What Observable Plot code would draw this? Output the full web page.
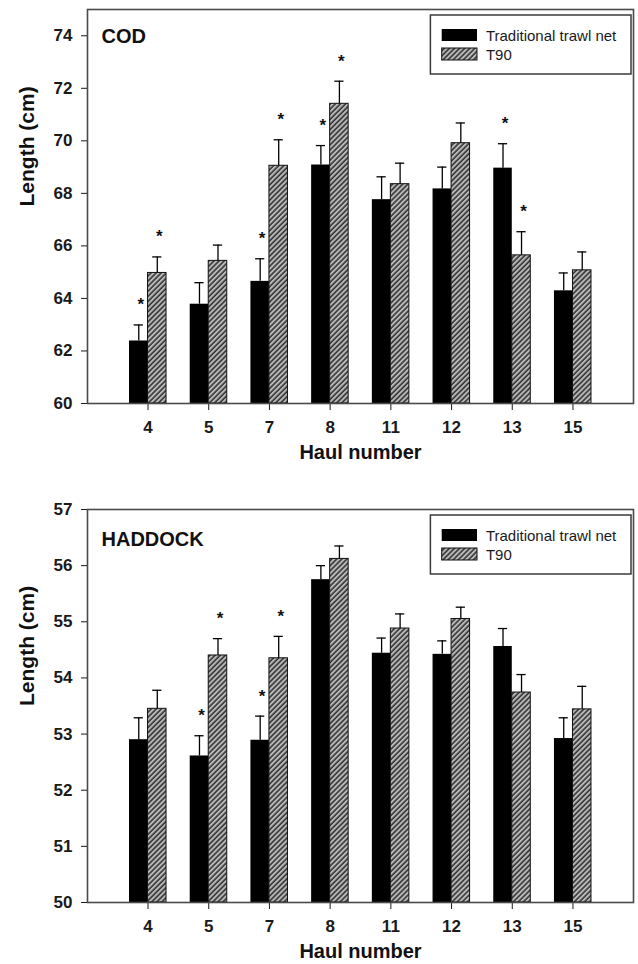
<!DOCTYPE html>
<html>
<head>
<meta charset="utf-8">
<script src="https://cdn.jsdelivr.net/npm/d3@7"></script>
<script src="https://cdn.jsdelivr.net/npm/@observablehq/plot@0.6"></script>
<style>
  html, body { margin: 0; padding: 0; background: #fff; }
  #chart svg { display: block; }
</style>
</head>
<body>
<div id="chart"></div>
<script>
// ---- Data ----
const hauls = ["4", "5", "7", "8", "11", "12", "13", "15"];
const seriesNames = ["Traditional trawl net", "T90"];

// COD (mean length, standard error, significance)
const codTrad = [62.38, 63.78, 64.65, 69.08, 67.76, 68.17, 68.96, 64.29];
const codTradSE = [0.61, 0.82, 0.86, 0.74, 0.87, 0.83, 0.93, 0.68];
const codT90 = [64.97, 65.43, 69.05, 71.41, 68.35, 69.91, 65.64, 65.07];
const codT90SE = [0.61, 0.60, 0.99, 0.86, 0.80, 0.77, 0.90, 0.70];
const codSig = [true, false, true, true, false, false, true, false];
const codYTicks = [60, 62, 64, 66, 68, 70, 72, 74];

// HADDOCK
const hadTrad = [52.90, 52.61, 52.89, 55.75, 54.44, 54.42, 54.56, 52.92];
const hadTradSE = [0.39, 0.36, 0.43, 0.25, 0.27, 0.24, 0.32, 0.37];
const hadT90 = [53.45, 54.40, 54.35, 56.12, 54.88, 55.05, 53.74, 53.44];
const hadT90SE = [0.33, 0.30, 0.39, 0.23, 0.26, 0.21, 0.32, 0.41];
const hadSig = [false, true, true, false, false, false, false, false];
const hadYTicks = [50, 51, 52, 53, 54, 55, 56, 57];

// ---- Layout ----
const W = 638, H = 482;
const mL = 87, mR = 5;
const padInner = 0.39, padOuter = 0.692;
const FONT = "'Liberation Sans', Arial, Helvetica, sans-serif";

function panel(cfg) {
  const {trad, tradSE, t90, t90SE, sig, yDomain, yTicks, title, mT, mB, titleDy, id} = cfg;
  const step = (W - mL - mR) / (hauls.length - padInner + 2 * padOuter);
  const bw = step * (1 - padInner);
  const half = bw / 2, q = bw / 4;
  const capHalf = 4.6;

  const rows = (vals, se, s) => hauls.map((h, i) => ({
    haul: h, series: s, value: vals[i], upper: vals[i] + se[i], base: yDomain[0], sig: sig[i]
  }));
  const tradRows = rows(trad, tradSE, seriesNames[0]);
  const t90Rows = rows(t90, t90SE, seriesNames[1]);

  const svg = Plot.plot({
    width: W, height: H,
    marginLeft: mL, marginRight: mR, marginTop: mT, marginBottom: mB,
    style: {fontFamily: FONT, fontSize: "17px", fontWeight: "bold", color: "#1a1a1a", background: "#fff"},
    x: {domain: hauls, paddingInner: padInner, paddingOuter: padOuter, round: false,
        tickSize: 7, tickPadding: 10, label: null},
    y: {domain: yDomain, ticks: yTicks, tickFormat: d => String(d), tickSize: 6, tickPadding: 9, label: null},
    marks: [
      Plot.barY(tradRows, {x: "haul", y1: "base", y2: "value", fill: "#000", insetRight: half}),
      Plot.barY(t90Rows, {x: "haul", y1: "base", y2: "value", fill: `url(#${id})`,
        stroke: "#111", strokeWidth: 1, insetLeft: half}),
      Plot.ruleX(tradRows, {x: "haul", y1: "value", y2: "upper", dx: -q, stroke: "#000", strokeWidth: 1.3}),
      Plot.ruleX(t90Rows, {x: "haul", y1: "value", y2: "upper", dx: q, stroke: "#000", strokeWidth: 1.3}),
      Plot.tickY(tradRows, {x: "haul", y: "upper", insetLeft: q - capHalf, insetRight: bw - q - capHalf,
        stroke: "#000", strokeWidth: 1.3}),
      Plot.tickY(t90Rows, {x: "haul", y: "upper", insetLeft: bw - q - capHalf, insetRight: q - capHalf,
        stroke: "#000", strokeWidth: 1.3}),
      Plot.text(tradRows.filter(d => d.sig), {x: "haul", y: "upper", text: () => "*", dx: -q + 2, dy: -20,
        fontSize: 17, fontWeight: "bold", fill: "#111"}),
      Plot.text(t90Rows.filter(d => d.sig), {x: "haul", y: "upper", text: () => "*", dx: q + 2, dy: -20,
        fontSize: 17, fontWeight: "bold", fill: "#111"}),
      Plot.frame({stroke: "#4a4a4a", strokeWidth: 1.6}),
      Plot.text([title], {text: d => d, frameAnchor: "top-left", textAnchor: "start", dx: 14, dy: titleDy,
        fontSize: 20, fontWeight: "bold", fill: "#111"}),
      Plot.text(["Haul number"], {text: d => d, frameAnchor: "bottom", dy: 55.5,
        fontSize: 20, fontWeight: "bold", fill: "#111"}),
      Plot.text(["Length (cm)"], {text: d => d, frameAnchor: "left", rotate: -90, dx: -60,
        fontSize: 21, fontWeight: "bold", fill: "#111"})
    ]
  });

  // hatch pattern
  const s = d3.select(svg);
  const defs = s.insert("defs", ":first-child");
  const pat = defs.append("pattern").attr("id", id).attr("patternUnits", "userSpaceOnUse")
    .attr("width", 3.6).attr("height", 3.6).attr("patternTransform", "rotate(45)");
  pat.append("rect").attr("width", 3.6).attr("height", 3.6).attr("fill", "#b8b8b8");
  pat.append("line").attr("x1", 1).attr("y1", 0).attr("x2", 1).attr("y2", 3.6)
    .attr("stroke", "#222").attr("stroke-width", 1.4);

  // legend (inside the frame, top-right)
  const frameRight = W - mR;
  const boxW = 200.6, boxH = 59;
  const lg = s.append("g").attr("transform", `translate(${frameRight - 2 - boxW},${mT + 6})`)
    .attr("font-family", FONT).attr("text-anchor", "start");
  lg.append("rect").attr("width", boxW).attr("height", boxH).attr("fill", "#fff")
    .attr("stroke", "#3a3a3a").attr("stroke-width", 1.5);
  const fills = ["#000", `url(#${id})`];
  seriesNames.forEach((name, i) => {
    const y0 = 14 + i * 19;
    lg.append("rect").attr("x", 11.3).attr("y", y0).attr("width", 35.3).attr("height", 12)
      .attr("fill", fills[i]).attr("stroke", "#111").attr("stroke-width", i ? 1 : 0);
    lg.append("text").attr("x", 55.5).attr("y", y0 + 11.5).attr("font-size", 15)
      .attr("text-anchor", "start").attr("font-weight", "normal").attr("fill", "#1a1a1a").text(name);
  });
  return svg;
}

const chart = document.getElementById("chart");
chart.appendChild(panel({
  trad: codTrad, tradSE: codTradSE, t90: codT90, t90SE: codT90SE, sig: codSig,
  yDomain: [60, 75], yTicks: codYTicks, title: "COD", mT: 9, mB: 79, titleDy: 18.9, id: "hatchCod"
}));
chart.appendChild(panel({
  trad: hadTrad, tradSE: hadTradSE, t90: hadT90, t90SE: hadT90SE, sig: hadSig,
  yDomain: [50, 57], yTicks: hadYTicks, title: "HADDOCK", mT: 27, mB: 62, titleDy: 21.9, id: "hatchHad"
}));
</script>
</body>
</html>
